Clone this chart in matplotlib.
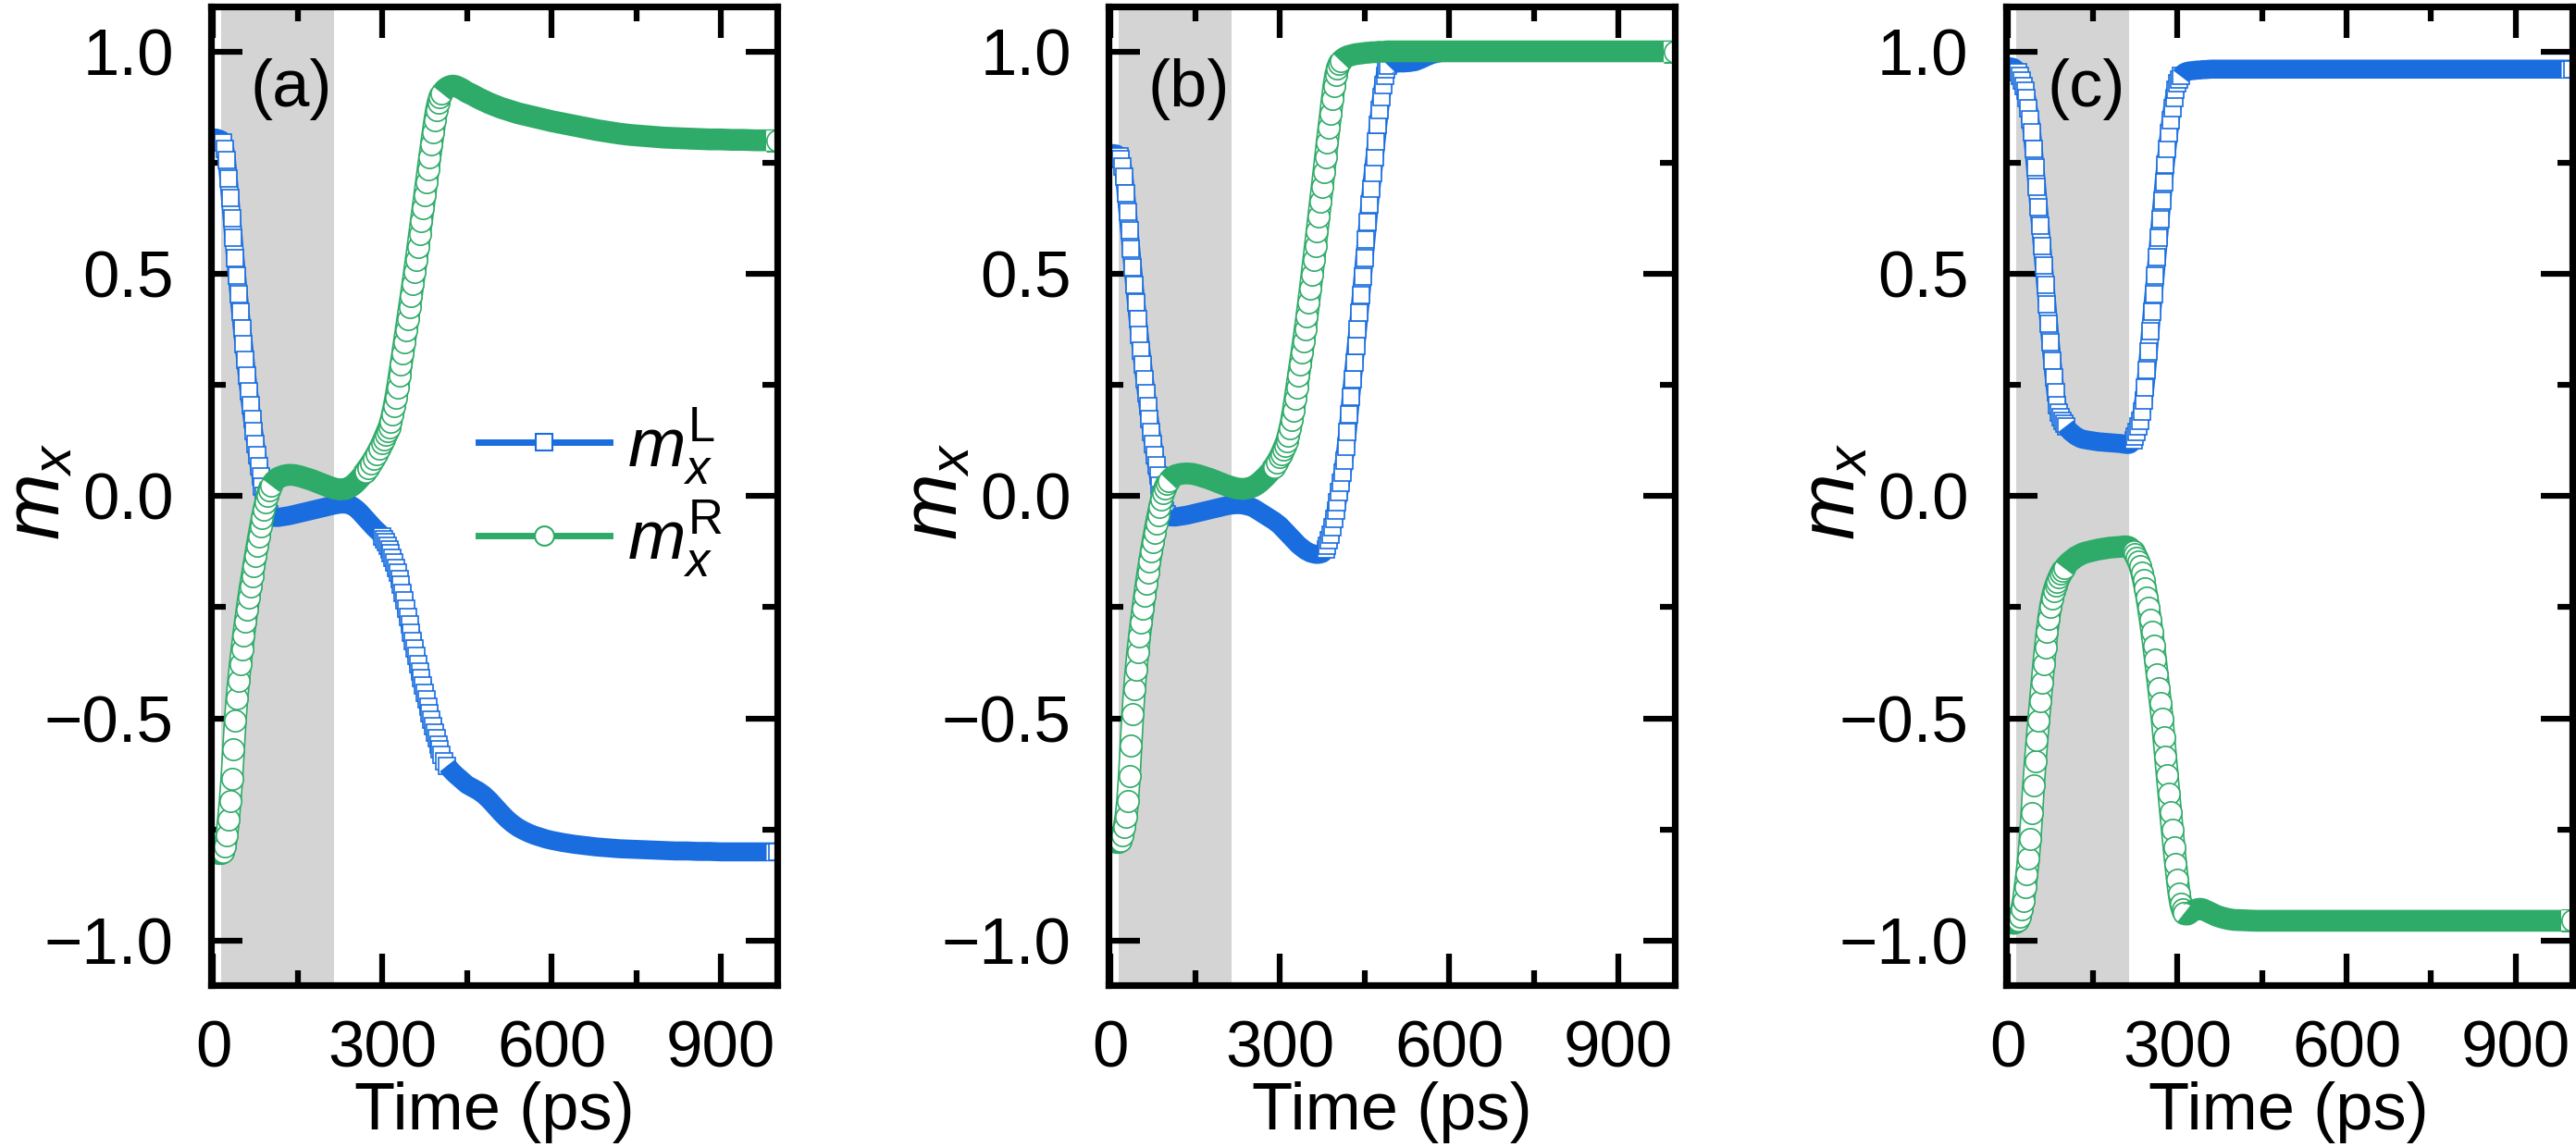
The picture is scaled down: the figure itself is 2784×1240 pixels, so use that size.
import numpy as np
import matplotlib
matplotlib.use('Agg')
import matplotlib.pyplot as plt
from matplotlib.lines import Line2D
from matplotlib.ticker import MultipleLocator

plt.rcParams['font.family'] = ['Liberation Sans', 'DejaVu Sans']
plt.rcParams['mathtext.fontset'] = 'custom'
plt.rcParams['mathtext.rm'] = 'Liberation Sans'
plt.rcParams['mathtext.it'] = 'Liberation Sans:italic'

BLUE = '#196ddf'
GREEN = '#2eab68'
GRAY = '#d4d4d4'
PULSE = (14, 214)      # ps, shaded window
SLOPE_CUT = 0.0016     # |dm/dt| above which open markers are shown
MEW = 1.2

# ---------------- panel (a) ----------------
t_a = [0, 5, 10, 15,
       18, 21, 24, 27, 30, 33, 36, 39, 42, 45, 48, 51, 54, 57, 60, 63, 66, 69, 72, 75, 78, 81, 84, 87, 90, 93, 96, 99, 102,
       108, 115, 125, 135, 145, 155, 165, 175, 185, 195, 205, 215, 225, 235,
       245, 250, 255, 260, 265, 270, 275, 280, 285, 290, 295, 300,
       303, 306, 309, 312, 315, 318, 321, 324, 327, 330, 333, 336, 339, 342, 345, 348, 351, 354, 357, 360,
       363, 366, 369, 372, 375, 378, 381, 384, 387, 390, 393, 396, 399, 402, 405,
       410, 415, 420, 425, 430, 440, 450,
       460, 470, 480, 490, 500, 510, 520, 530, 540, 550, 560, 570, 580, 590, 600,
       620, 640, 660, 680, 700, 720, 740, 760, 780, 800, 820, 840, 860, 880, 900, 920, 940, 960, 980, 1000]
mL_a = [0.805, 0.805, 0.803, 0.800,
        0.795, 0.780, 0.755, 0.715, 0.670, 0.625, 0.580, 0.535, 0.495, 0.455, 0.415, 0.378, 0.342, 0.306, 0.270,
        0.236, 0.204, 0.174, 0.146, 0.118, 0.092, 0.068, 0.045, 0.022, 0.001, -0.018, -0.033, -0.042, -0.046,
        -0.048, -0.048, -0.046, -0.044, -0.041, -0.038, -0.035, -0.032, -0.029, -0.026, -0.023, -0.020, -0.018, -0.018,
        -0.021, -0.025, -0.030, -0.036, -0.043, -0.050, -0.057, -0.064, -0.071, -0.077, -0.083, -0.090,
        -0.097, -0.104, -0.112, -0.120, -0.129, -0.139, -0.150, -0.161, -0.173, -0.186, -0.200, -0.217, -0.235,
        -0.253, -0.271, -0.289, -0.307, -0.325, -0.343, -0.360, -0.377, -0.394, -0.410, -0.426, -0.442, -0.458,
        -0.473, -0.488, -0.503, -0.517, -0.531, -0.545, -0.558, -0.570, -0.581,
        -0.596, -0.606, -0.614, -0.621, -0.627, -0.638, -0.649,
        -0.656, -0.663, -0.672, -0.684, -0.698, -0.712, -0.725, -0.736, -0.745, -0.752, -0.758, -0.763, -0.767,
        -0.771, -0.774,
        -0.779, -0.783, -0.786, -0.789, -0.791, -0.793, -0.794, -0.795, -0.796, -0.797, -0.798, -0.798, -0.799,
        -0.799, -0.800, -0.800, -0.800, -0.800, -0.800, -0.800]
mR_a = [-0.795, -0.800, -0.805, -0.805,
        -0.800, -0.787, -0.763, -0.727, -0.686, -0.635, -0.570, -0.505, -0.455, -0.415, -0.378, -0.345, -0.313,
        -0.283, -0.255, -0.228, -0.203, -0.180, -0.157, -0.134, -0.112, -0.090, -0.069, -0.049, -0.031, -0.014,
        0.001, 0.014, 0.024,
        0.034, 0.041, 0.046, 0.048, 0.047, 0.044, 0.040, 0.036, 0.031, 0.026, 0.021, 0.017, 0.015, 0.016,
        0.022, 0.027, 0.033, 0.040, 0.047, 0.055, 0.064, 0.073, 0.083, 0.094, 0.106, 0.119,
        0.128, 0.137, 0.146, 0.155, 0.168, 0.184, 0.202, 0.222, 0.245, 0.270, 0.295, 0.320, 0.346, 0.372, 0.398,
        0.424, 0.450, 0.477, 0.504, 0.532, 0.560, 0.589, 0.618, 0.647, 0.676, 0.705, 0.734, 0.762, 0.790, 0.818,
        0.845, 0.868, 0.885, 0.897, 0.906,
        0.914, 0.919, 0.922, 0.923, 0.922, 0.916, 0.908,
        0.902, 0.895, 0.889, 0.883, 0.878, 0.873, 0.869, 0.865, 0.861, 0.858, 0.855, 0.852, 0.849, 0.846, 0.843,
        0.838, 0.833, 0.828, 0.823, 0.819, 0.815, 0.812, 0.810, 0.808, 0.806, 0.805, 0.804, 0.803, 0.802, 0.802,
        0.801, 0.801, 0.800, 0.800, 0.800]

# ---------------- panel (b) ----------------
t_b = [0, 5, 10, 15,
       18, 21, 24, 27, 30, 33, 36, 39, 42, 45, 48, 51, 54, 57, 60, 63, 66, 69, 72, 75, 78, 81, 84, 87, 90, 93, 96, 99, 102,
       108, 115, 125, 135, 145, 155, 165, 175, 185, 195, 205, 215, 225, 235,
       245, 250, 255, 260, 265, 270, 275, 280, 285, 290, 295, 300,
       303, 306, 309, 312, 315, 318, 321, 324, 327, 330, 333, 336, 339, 342, 345, 348, 351, 354, 357, 360,
       363, 366, 369, 372, 375, 378, 381, 384, 387, 390, 393, 396, 399, 402, 405,
       408, 411, 414, 417, 420, 423, 426, 429, 432, 435, 438, 441, 444, 447, 450,
       453, 456, 459, 462, 465, 468, 471, 474, 477, 480, 483, 486, 489, 492, 495,
       500, 505, 510, 520, 530, 540, 550, 560, 570, 580, 590, 600,
       620, 640, 660, 680, 700, 720, 740, 760, 780, 800, 820, 840, 860, 880, 900, 920, 940, 960, 980, 1000]
mL_b = [0.770, 0.770, 0.769, 0.765,
        0.758, 0.742, 0.718, 0.680, 0.640, 0.598, 0.556, 0.515, 0.475, 0.436, 0.398, 0.362, 0.328, 0.295, 0.263,
        0.232, 0.202, 0.173, 0.145, 0.118, 0.093, 0.069, 0.046, 0.024, 0.003, -0.017, -0.032, -0.040, -0.045,
        -0.047, -0.047, -0.045, -0.043, -0.040, -0.037, -0.034, -0.031, -0.028, -0.025, -0.022, -0.020, -0.019, -0.020,
        -0.023, -0.025, -0.028, -0.032, -0.036, -0.040, -0.044, -0.048, -0.052, -0.056, -0.061, -0.066,
        -0.070, -0.074, -0.078, -0.082, -0.086, -0.090, -0.094, -0.098, -0.102, -0.106, -0.110, -0.113, -0.116,
        -0.119, -0.122, -0.124, -0.126, -0.128, -0.129, -0.130,
        -0.131, -0.131, -0.131, -0.130, -0.129, -0.126, -0.121, -0.112, -0.100, -0.087, -0.071, -0.052, -0.033,
        -0.013, 0.008,
        0.030, 0.053, 0.079, 0.110, 0.145, 0.183, 0.223, 0.263, 0.300, 0.337, 0.374, 0.412, 0.452, 0.494, 0.536,
        0.576, 0.616, 0.655, 0.692, 0.727, 0.761, 0.797, 0.834, 0.868, 0.898, 0.924, 0.945, 0.960, 0.968, 0.972,
        0.973, 0.973, 0.974, 0.974, 0.975, 0.977, 0.982, 0.988, 0.993, 0.996, 0.998, 0.999,
        1.000, 1.000, 1.000, 1.000, 1.000, 1.000, 1.000, 1.000, 1.000, 1.000, 1.000, 1.000, 1.000, 1.000, 1.000,
        1.000, 1.000, 1.000, 1.000, 1.000]
mR_b = [-0.770, -0.775, -0.780, -0.780,
        -0.775, -0.762, -0.744, -0.722, -0.686, -0.630, -0.560, -0.490, -0.435, -0.390, -0.350, -0.316, -0.284,
        -0.254, -0.225, -0.198, -0.172, -0.148, -0.125, -0.103, -0.082, -0.062, -0.043, -0.025, -0.008, 0.006,
        0.018, 0.027, 0.034,
        0.042, 0.047, 0.050, 0.051, 0.050, 0.047, 0.043, 0.039, 0.034, 0.029, 0.024, 0.020, 0.017, 0.016,
        0.018, 0.020, 0.023, 0.027, 0.032, 0.038, 0.044, 0.051, 0.058, 0.066, 0.076, 0.087,
        0.095, 0.104, 0.113, 0.123, 0.136, 0.152, 0.171, 0.193, 0.218, 0.244, 0.270, 0.296, 0.322, 0.348, 0.376,
        0.405, 0.435, 0.466, 0.498, 0.530,
        0.563, 0.596, 0.629, 0.662, 0.695, 0.728, 0.762, 0.796, 0.828, 0.860, 0.893, 0.923, 0.946, 0.962, 0.972,
        0.978, 0.982, 0.985, 0.987, 0.989, 0.990, 0.991, 0.992, 0.993, 0.994, 0.994, 0.995, 0.995, 0.996, 0.996,
        0.997, 0.997, 0.997, 0.998, 0.998, 0.998, 0.998, 0.999, 0.999, 0.999, 0.999, 0.999, 1.000, 1.000, 1.000,
        1.000, 1.000, 1.000, 1.000, 1.000, 1.000, 1.000, 1.000, 1.000, 1.000, 1.000, 1.000,
        1.000, 1.000, 1.000, 1.000, 1.000, 1.000, 1.000, 1.000, 1.000, 1.000, 1.000, 1.000, 1.000, 1.000, 1.000,
        1.000, 1.000, 1.000, 1.000, 1.000]

# ---------------- panel (c) ----------------
t_c = [0, 5, 10, 15,
       18, 21, 24, 27, 30, 33, 36, 39, 42, 45, 48, 51, 54, 57, 60, 63, 66, 69, 72, 75,
       78, 81, 84, 87, 90, 93, 96, 99, 102, 105, 108, 111, 114, 117, 120, 123, 126, 129, 132,
       140, 150, 160, 170, 180, 190, 200,
       204, 207, 210, 213, 216, 219, 222, 225, 228, 231, 234, 237, 240, 243, 246, 249, 252, 255, 258, 261,
       264, 267, 270, 273, 276, 279, 282, 285, 288, 291, 294, 297, 300, 303, 306, 309, 312, 315, 318, 321,
       324, 327, 330,
       335, 340, 345, 350, 360, 370, 380, 390, 400,
       420, 440, 460, 480, 500, 520, 540, 560, 580, 600, 620, 640, 660, 680, 700,
       720, 740, 760, 780, 800, 820, 840, 860, 880, 900, 920, 940, 960, 980, 1000]
mL_c = [0.965, 0.965, 0.963, 0.958,
        0.953, 0.945, 0.935, 0.922, 0.912, 0.895, 0.873, 0.848, 0.818, 0.780, 0.738, 0.695, 0.650, 0.607, 0.563,
        0.519, 0.475, 0.431, 0.388, 0.346,
        0.305, 0.267, 0.233, 0.205, 0.188, 0.178, 0.170, 0.163, 0.157, 0.152, 0.148, 0.144, 0.141, 0.138, 0.135,
        0.133, 0.131, 0.129, 0.128,
        0.126, 0.124, 0.122, 0.121, 0.120, 0.119, 0.118,
        0.117, 0.117, 0.116, 0.116, 0.117, 0.120, 0.126, 0.134, 0.144, 0.156, 0.170, 0.190, 0.215, 0.245, 0.283,
        0.325, 0.370, 0.414, 0.454, 0.495,
        0.537, 0.580, 0.623, 0.665, 0.706, 0.745, 0.781, 0.815, 0.845, 0.872, 0.895, 0.914, 0.928, 0.937, 0.944,
        0.949, 0.952, 0.954, 0.955, 0.956,
        0.956, 0.957, 0.957,
        0.958, 0.958, 0.959, 0.959, 0.960, 0.960, 0.960, 0.960, 0.960,
        0.960, 0.960, 0.960, 0.960, 0.960, 0.960, 0.960, 0.960, 0.960, 0.960, 0.960, 0.960, 0.960, 0.960, 0.960,
        0.960, 0.960, 0.960, 0.960, 0.960, 0.960, 0.960, 0.960, 0.960, 0.960, 0.960, 0.960, 0.960, 0.960, 0.960]
mR_c = [-0.950, -0.958, -0.962, -0.960,
        -0.955, -0.945, -0.930, -0.910, -0.880, -0.850, -0.815, -0.770, -0.712, -0.650, -0.597, -0.549, -0.504,
        -0.462, -0.420, -0.378, -0.340, -0.305, -0.275, -0.250,
        -0.230, -0.214, -0.202, -0.192, -0.183, -0.175, -0.168, -0.162, -0.157, -0.153, -0.149, -0.146, -0.143,
        -0.140, -0.137, -0.135, -0.133, -0.131, -0.129,
        -0.126, -0.123, -0.120, -0.118, -0.116, -0.115, -0.114,
        -0.113, -0.113, -0.113, -0.114, -0.116, -0.120, -0.125, -0.131, -0.138, -0.147, -0.158, -0.172, -0.188,
        -0.207, -0.228, -0.252, -0.278, -0.306, -0.336, -0.367,
        -0.400, -0.433, -0.466, -0.500, -0.542, -0.585, -0.628, -0.670, -0.711, -0.751, -0.790, -0.827, -0.862,
        -0.893, -0.916, -0.930, -0.938, -0.941, -0.941, -0.939,
        -0.936, -0.933, -0.931,
        -0.929, -0.928, -0.929, -0.932, -0.938, -0.944, -0.948, -0.951, -0.953,
        -0.954, -0.955, -0.955, -0.955, -0.955, -0.955, -0.955, -0.955, -0.955, -0.955, -0.955, -0.955, -0.955,
        -0.955, -0.955, -0.955, -0.955, -0.955, -0.955, -0.955, -0.955, -0.955, -0.955, -0.955, -0.955, -0.955,
        -0.955, -0.955, -0.955, -0.955]

panels = [('(a)', t_a, mL_a, mR_a), ('(b)', t_b, mL_b, mR_b), ('(c)', t_c, mL_c, mR_c)]
lefts = [0.0819, 0.4303, 0.7787]


def draw_series(ax, t, m, color, marker, ms, band, z):
    # open markers where the curve moves fast (with a hollow tube behind them so
    # the stack reads as one column), a solid band where markers pile up
    t = np.asarray(t, float)
    m = np.asarray(m, float)
    steep = np.abs(np.gradient(m, t)) > SLOPE_CUT
    steep[-1] = True
    cuts = list(np.flatnonzero(np.diff(steep.astype(int))) + 1) + [len(t)]
    start = 0
    for stop in cuts:
        if steep[start]:
            lo = max(start - 1, 0)
            if stop - lo > 1:
                ax.plot(t[lo:stop], m[lo:stop], color=color, lw=ms + MEW,
                        solid_capstyle='butt', solid_joinstyle='round', zorder=z)
                ax.plot(t[lo:stop], m[lo:stop], color='white', lw=ms - MEW,
                        solid_capstyle='butt', solid_joinstyle='round', zorder=z)
            ax.plot(t[start:stop], m[start:stop], ls='none', marker=marker, ms=ms,
                    mfc='white', mec=color, mew=MEW, zorder=z)
        else:
            lo, hi = max(start - 1, 0), min(stop + 1, len(t))
            ax.plot(t[lo:hi], m[lo:hi], color=color, lw=band,
                    solid_capstyle='butt', solid_joinstyle='round', zorder=z)
        z += 0.001
        start = stop


fig = plt.figure(figsize=(27.84, 12.4), dpi=100)

for i, (tag, t, mL, mR) in enumerate(panels):
    ax = fig.add_axes([lefts[i], 0.141, 0.2198, 0.853])
    ax.axvspan(*PULSE, color=GRAY, lw=0, zorder=0.5)
    draw_series(ax, t, mL, BLUE, 's', 13.2, 14.8, 2.0)
    draw_series(ax, t, mR, GREEN, 'o', 16.8, 17.0, 2.2)

    ax.set_xlim(-4, 1000)
    ax.set_ylim(-1.1, 1.1)
    ax.set_xticks([0, 300, 600, 900])
    ax.set_yticks([-1.0, -0.5, 0.0, 0.5, 1.0])
    ax.xaxis.set_minor_locator(MultipleLocator(150))
    ax.yaxis.set_minor_locator(MultipleLocator(0.25))
    ax.tick_params(which='both', direction='in', top=True, right=True, width=4.5, labelsize=51)
    ax.tick_params(which='major', length=24.5)
    ax.tick_params(which='minor', length=11.5)
    ax.tick_params(axis='y', pad=29)
    ax.tick_params(axis='x', pad=27)
    for s in ax.spines.values():
        s.set_linewidth(5.2)

    ax.set_xlabel('Time (ps)', fontsize=52, labelpad=0)
    ax.set_ylabel('$m_x$', fontsize=62)
    ax.yaxis.set_label_coords(-0.238, 0.505)
    ax.text(0.142, 0.916, tag, transform=ax.transAxes, ha='center', va='center', fontsize=52)

    if i == 0:
        handles = [Line2D([], [], color=BLUE, lw=5, marker='s', ms=13, mfc='white', mec=BLUE, mew=1.5),
                   Line2D([], [], color=GREEN, lw=5, marker='o', ms=15, mfc='white', mec=GREEN, mew=1.5)]
        ax.legend(handles, [r'$m_x^{\mathrm{L}}$', r'$m_x^{\mathrm{R}}$'], loc='center left',
                  bbox_to_anchor=(0.472, 0.503), frameon=False, fontsize=54, handlelength=1.9,
                  handletextpad=0.25, labelspacing=0.15, borderpad=0, borderaxespad=0, numpoints=1)

fig.savefig('out.png', dpi=100)
